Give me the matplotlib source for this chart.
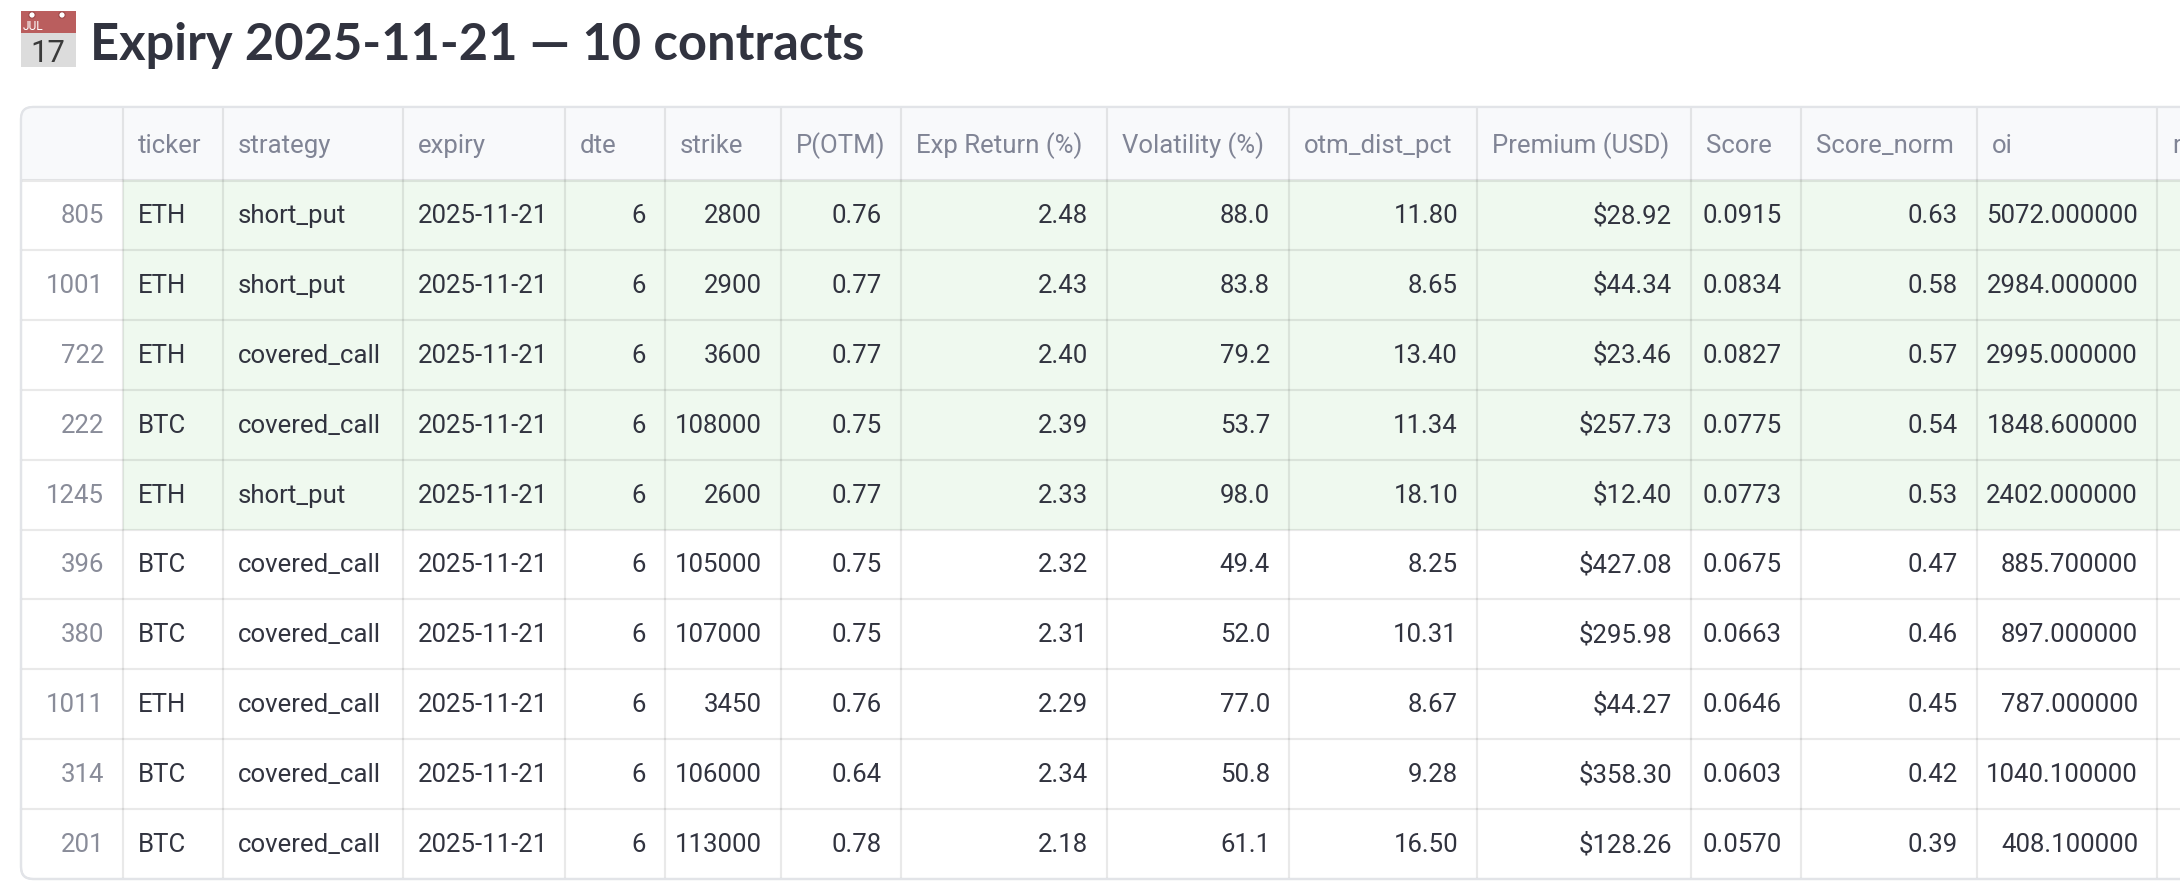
import matplotlib
matplotlib.use("Agg")
import matplotlib.pyplot as plt
from matplotlib.patches import Rectangle, FancyBboxPatch, Circle

# ---------------- data ----------------
title = "Expiry 2025-11-21 — 10 contracts"
columns = ["ticker", "strategy", "expiry", "dte", "strike", "P(OTM)", "Exp Return (%)",
           "Volatility (%)", "otm_dist_pct", "Premium (USD)", "Score", "Score_norm", "oi", "rank"]
index = [805, 1001, 722, 222, 1245, 396, 380, 1011, 314, 201]
ticker = ["ETH", "ETH", "ETH", "BTC", "ETH", "BTC", "BTC", "ETH", "BTC", "BTC"]
strategy = ["short_put", "short_put", "covered_call", "covered_call", "short_put",
            "covered_call", "covered_call", "covered_call", "covered_call", "covered_call"]
expiry = ["2025-11-21"] * 10
dte = [6, 6, 6, 6, 6, 6, 6, 6, 6, 6]
strike = [2800, 2900, 3600, 108000, 2600, 105000, 107000, 3450, 106000, 113000]
p_otm = [0.76, 0.77, 0.77, 0.75, 0.77, 0.75, 0.75, 0.76, 0.64, 0.78]
exp_return = [2.48, 2.43, 2.40, 2.39, 2.33, 2.32, 2.31, 2.29, 2.34, 2.18]
volatility = [88.0, 83.8, 79.2, 53.7, 98.0, 49.4, 52.0, 77.0, 50.8, 61.1]
otm_dist_pct = [11.80, 8.65, 13.40, 11.34, 18.10, 8.25, 10.31, 8.67, 9.28, 16.50]
premium = [28.92, 44.34, 23.46, 257.73, 12.40, 427.08, 295.98, 44.27, 358.30, 128.26]
score = [0.0915, 0.0834, 0.0827, 0.0775, 0.0773, 0.0675, 0.0663, 0.0646, 0.0603, 0.0570]
score_norm = [0.63, 0.58, 0.57, 0.54, 0.53, 0.47, 0.46, 0.45, 0.42, 0.39]
oi = [5072.0, 2984.0, 2995.0, 1848.6, 2402.0, 885.7, 897.0, 787.0, 1040.1, 408.1]
highlight = [True, True, True, True, True, False, False, False, False, False]

# ---------------- layout / style ----------------
W, H = 2180, 894
FONT = ["Roboto", "DejaVu Sans"]
TFONT = ["Lato", "DejaVu Sans"]
TXT = "#31333F"
HDR_TXT = "#808495"
IDX_TXT = "#898C99"
HDR_BG = "#F8F9FB"
GREEN = "#EFF9EF"
GRID = (0, 0, 0, 0.085)
edges = [21, 123, 223, 403, 565, 665, 781, 901, 1107, 1289, 1477, 1691, 1801, 1977, 2157, 2500]
top, hdr_bot, row_h = 107, 180, 69.9
PX = 0.72  # px -> pt at dpi 100
body_fs = 25.8 * PX
title_fs = 50.6 * PX

fig = plt.figure(figsize=(W / 100, H / 100), dpi=100)
ax = fig.add_axes([0, 0, 1, 1])
ax.set_xlim(0, W)
ax.set_ylim(H, 0)
ax.axis("off")

# ---------------- title with calendar icon ----------------
ax.add_patch(Rectangle((21, 33), 55, 34, facecolor="#DCDCDC", edgecolor="none"))
ax.add_patch(Rectangle((21, 11), 55, 22, facecolor="#BA5E5E", edgecolor="none"))
for cx in (32, 62):
    ax.add_patch(Circle((cx, 15), 3.2, facecolor="white", edgecolor="#9C4646", lw=0.8))
ax.text(23, 30, "JUL", color="white", fontsize=12 * PX, family=FONT, ha="left", va="baseline")
ax.text(48, 62, "17", color="#3A3A3A", fontsize=31 * PX, family=FONT, ha="center", va="baseline")
ax.text(90, 60, title, color=TXT, fontsize=title_fs, family=TFONT, fontweight="bold",
        ha="left", va="baseline")

# ---------------- table ----------------
n = len(index)
bottom = hdr_bot + n * row_h
frame = FancyBboxPatch((edges[0], top), W + 60 - edges[0], bottom - top,
                       boxstyle="round,pad=0,rounding_size=12",
                       facecolor="white", edgecolor="#E2E4E8", lw=1.6, zorder=1)
ax.add_patch(frame)

def clipped(p):
    ax.add_patch(p)
    p.set_clip_path(frame)
    return p

clipped(Rectangle((edges[0], top), W + 60, hdr_bot - top, facecolor=HDR_BG, edgecolor="none", zorder=1.1))
for i in range(n):
    if highlight[i]:
        clipped(Rectangle((edges[1], hdr_bot + i * row_h), W + 60, row_h,
                          facecolor=GREEN, edgecolor="none", zorder=1.1))

# grid lines
for x in edges[1:-1]:
    ax.plot([x, x], [top, bottom], color=GRID, lw=1.6, zorder=1.2, solid_capstyle="butt")
ax.plot([edges[0], W], [hdr_bot, hdr_bot], color=GRID, lw=2.2, zorder=1.2)
for i in range(1, n):
    y = hdr_bot + i * row_h
    ax.plot([edges[0], W], [y, y], color=GRID, lw=1.6, zorder=1.2)
ax.add_patch(FancyBboxPatch((edges[0], top), W + 60 - edges[0], bottom - top,
                            boxstyle="round,pad=0,rounding_size=12",
                            facecolor="none", edgecolor="#E2E4E8", lw=1.6, zorder=1.3))

# header text
LPAD, RPAD = 15, 19
for j, name in enumerate(columns):
    ax.text(edges[j + 1] + LPAD, top + 46, name, color=HDR_TXT, fontsize=body_fs,
            family=FONT, ha="left", va="baseline", zorder=2)

cells = [
    (ticker, "{}", "left"),
    (strategy, "{}", "left"),
    (expiry, "{}", "left"),
    (dte, "{:d}", "right"),
    (strike, "{:d}", "right"),
    (p_otm, "{:.2f}", "right"),
    (exp_return, "{:.2f}", "right"),
    (volatility, "{:.1f}", "right"),
    (otm_dist_pct, "{:.2f}", "right"),
    (premium, "${:.2f}", "right"),
    (score, "{:.4f}", "right"),
    (score_norm, "{:.2f}", "right"),
    (oi, "{:.6f}", "right"),
]

for i in range(n):
    base = hdr_bot + i * row_h + 43
    ax.text(edges[1] - RPAD, base, str(index[i]), color=IDX_TXT, fontsize=body_fs,
            family=FONT, ha="right", va="baseline", zorder=2)
    for j, (vals, fmt, al) in enumerate(cells):
        x = edges[j + 1] + LPAD if al == "left" else edges[j + 2] - RPAD
        ax.text(x, base, fmt.format(vals[i]), color=TXT, fontsize=body_fs,
                family=FONT, ha=al, va="baseline", zorder=2)

fig.savefig("out.png", dpi=100, facecolor="white")
